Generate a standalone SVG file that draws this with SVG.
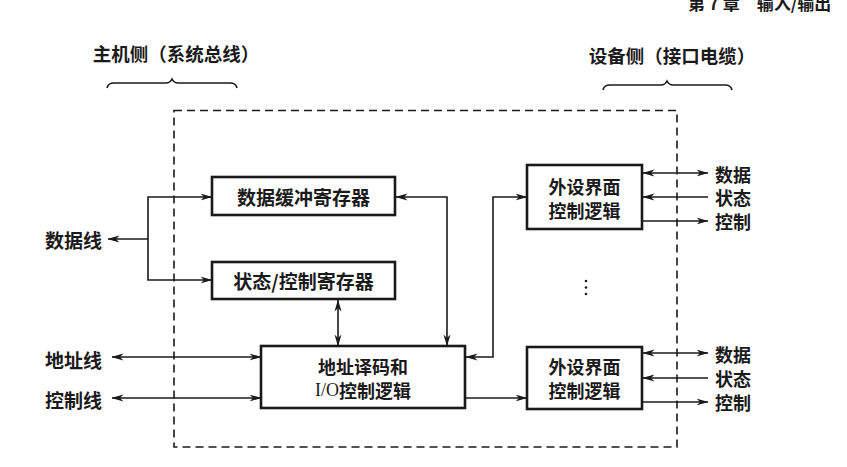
<svg xmlns="http://www.w3.org/2000/svg" width="847" height="467" viewBox="0 0 847 467">
<defs>
<marker id="ah" viewBox="0 0 12 8" refX="11.5" refY="4" markerWidth="12" markerHeight="8" markerUnits="userSpaceOnUse" orient="auto-start-reverse">
<path d="M0,0.5 L12,4 L0,7.5 L3.5,4 z" fill="#1a1a1a"/>
</marker>
<style>
.box{fill:#fff;stroke:#1a1a1a;stroke-width:2.6}
.ln{fill:none;stroke:#1a1a1a;stroke-width:1.6}
.t{font-family:"Noto Sans CJK SC","Noto Sans CJK JP",sans-serif;font-size:19px;font-weight:bold;fill:#1a1a1a;dominant-baseline:central}
.s{font-size:18px}
.io{font-family:"Liberation Serif",serif;font-weight:normal}
</style>
</defs>
<rect width="847" height="467" fill="#fff"/>
<text x="688" y="10" style="font-family:'Noto Sans CJK SC',sans-serif;font-size:17px;font-weight:bold;fill:#1a1a1a">第 7 章　输入/输出</text>

<g id="host-side">
<text class="t" x="176" y="53" text-anchor="middle" style="font-size:18.5px">主机侧（系统总线）</text>
<path class="ln" d="M107,88 Q108,83 114,83 L166,83 Q170,83 172,79 Q174,83 178,83 L230,83 Q236,83 237,88"/>
</g>
<g id="device-side">
<text class="t" x="672" y="55" text-anchor="middle" style="font-size:18.5px">设备侧（接口电缆）</text>
<path class="ln" d="M603,90 Q604,85 610,85 L661,85 Q665,85 667,81 Q669,85 673,85 L725,85 Q731,85 732,90"/>
</g>

<g id="interface-boundary">
<rect x="174" y="110.5" width="503" height="336.5" fill="none" stroke="#1a1a1a" stroke-width="1.6" stroke-dasharray="8,5"/>
</g>

<g id="connectors">
<line class="ln" x1="148" y1="239" x2="108" y2="239" marker-end="url(#ah)"/>
<polyline class="ln" points="212,197 148,197 148,280 212,280" marker-start="url(#ah)" marker-end="url(#ah)"/>
<line class="ln" x1="112" y1="357" x2="261" y2="357" marker-start="url(#ah)" marker-end="url(#ah)"/>
<line class="ln" x1="112" y1="398" x2="261" y2="398" marker-start="url(#ah)" marker-end="url(#ah)"/>
<line class="ln" x1="338" y1="300" x2="338" y2="346" marker-start="url(#ah)" marker-end="url(#ah)"/>
<polyline class="ln" points="396,197 447,197 447,346" marker-start="url(#ah)" marker-end="url(#ah)"/>
<polyline class="ln" points="466,357 493,357 493,197 527,197" marker-start="url(#ah)" marker-end="url(#ah)"/>
<line class="ln" x1="465" y1="398" x2="527" y2="398" marker-end="url(#ah)"/>
<line class="ln" x1="643" y1="173" x2="708" y2="173" marker-start="url(#ah)" marker-end="url(#ah)"/>
<line class="ln" x1="708" y1="197" x2="643" y2="197" marker-end="url(#ah)"/>
<line class="ln" x1="643" y1="221" x2="708" y2="221" marker-end="url(#ah)"/>
<line class="ln" x1="643" y1="353" x2="708" y2="353" marker-start="url(#ah)" marker-end="url(#ah)"/>
<line class="ln" x1="708" y1="378" x2="643" y2="378" marker-end="url(#ah)"/>
<line class="ln" x1="643" y1="402" x2="708" y2="402" marker-end="url(#ah)"/>
</g>

<g id="data-buffer-reg">
<rect class="box" x="212" y="177" width="183" height="38"/>
<text class="t" x="303.5" y="196" text-anchor="middle">数据缓冲寄存器</text>
</g>
<g id="status-control-reg">
<rect class="box" x="212" y="262" width="183" height="37"/>
<text class="t" x="303.5" y="280.5" text-anchor="middle">状态/控制寄存器</text>
</g>
<g id="address-decoder">
<rect class="box" x="261" y="346" width="204" height="62"/>
<text class="t s" x="363" y="365.5" text-anchor="middle">地址译码和</text>
<text class="t s" x="363" y="390" text-anchor="middle"><tspan class="io">I/O</tspan>控制逻辑</text>
</g>
<g id="peripheral-1">
<rect class="box" x="527" y="165" width="115" height="64"/>
<text class="t s" x="584.5" y="186" text-anchor="middle">外设界面</text>
<text class="t s" x="584.5" y="210" text-anchor="middle">控制逻辑</text>
</g>
<g id="peripheral-2">
<rect class="box" x="527" y="347" width="115" height="62"/>
<text class="t s" x="584.5" y="366" text-anchor="middle">外设界面</text>
<text class="t s" x="584.5" y="390" text-anchor="middle">控制逻辑</text>
</g>

<g id="ellipsis">
<circle cx="586" cy="281" r="1.3" fill="#1a1a1a"/>
<circle cx="586" cy="287.5" r="1.3" fill="#1a1a1a"/>
<circle cx="586" cy="294" r="1.3" fill="#1a1a1a"/>
</g>

<g id="host-labels">
<text class="t" x="45" y="239">数据线</text>
<text class="t" x="45" y="359">地址线</text>
<text class="t" x="45" y="399">控制线</text>
</g>
<g id="device-labels-1">
<text class="t s" x="715" y="173.5">数据</text>
<text class="t s" x="715" y="197">状态</text>
<text class="t s" x="715" y="220.5">控制</text>
</g>
<g id="device-labels-2">
<text class="t s" x="715" y="354">数据</text>
<text class="t s" x="715" y="378">状态</text>
<text class="t s" x="715" y="402">控制</text>
</g>
</svg>
